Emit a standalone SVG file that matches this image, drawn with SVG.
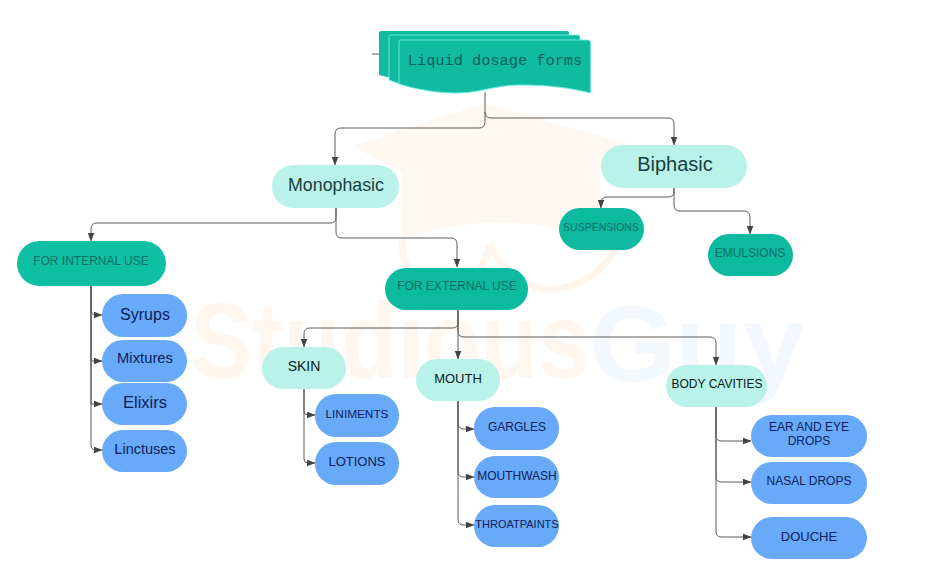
<svg xmlns="http://www.w3.org/2000/svg" width="928" height="570" viewBox="0 0 928 570">
<style>
text{font-family:"Liberation Sans",Arial,sans-serif;text-anchor:middle;dominant-baseline:central}
.lt{fill:#b9f2e8}.tl{fill:#0fbfa3}.dk{fill:#0bba9f}.bl{fill:#69a9f9}
.tt{fill:#0e6e66}.nv{fill:#0b1d5a}.bk{fill:#173f40}.kk{fill:#0a1a1a}
.c{fill:none;stroke:#5a5a5a;stroke-width:1}
.doc{fill:#10bba1;stroke:#6ef0e0;stroke-width:.9}
</style>
<defs><marker id="a" markerWidth="9" markerHeight="7" refX="8.5" refY="3.5" orient="auto" markerUnits="userSpaceOnUse"><path d="M0 0L9 3.5L0 7z" fill="#444"/></marker></defs>
<rect width="928" height="570" fill="#fff"/>
<g id="watermark">
<path d="M352 146L485 103L650 150L600 170V240Q500 205 402 240V172Z" fill="#fff8f2"/>
<g fill="none" stroke="#fff5ec" stroke-width="7"><path d="M402 240Q402 290 450 290Q480 285 490 245"/><path d="M490 245Q510 285 550 290Q600 285 620 240"/></g>
<text x="390" y="340" font-size="108" font-weight="700" fill="#fff6ef" textLength="400" lengthAdjust="spacingAndGlyphs">Studious</text>
<text x="697" y="343" font-size="108" font-weight="700" fill="#f3f8fe" textLength="215" lengthAdjust="spacingAndGlyphs">Guy</text>
</g>
<g id="connectors">
<path class="c" d="M372 54H379"/>
<path class="c" marker-end="url(#a)" d="M485 92V122Q485 128 479 128H341Q335 128 335 134V165"/>
<path class="c" marker-end="url(#a)" d="M485 112Q485 118 491 118H668Q674 118 674 124V145"/>
<path class="c" marker-end="url(#a)" d="M336 208V218Q336 223 330 223H97Q91 223 91 229V241"/>
<path class="c" marker-end="url(#a)" d="M336 208V232Q336 238 342 238H451Q457 238 457 244V267"/>
<path class="c" marker-end="url(#a)" d="M674 188V192Q674 197 668 197H607Q601 197 601 203V208"/>
<path class="c" marker-end="url(#a)" d="M674 188V205Q674 211 680 211H744Q750 211 750 217V234"/>
<path class="c" marker-end="url(#a)" d="M458 310V323Q458 328 452 328H310Q304 328 304 334V347"/>
<path class="c" marker-end="url(#a)" d="M458 310V359"/>
<path class="c" marker-end="url(#a)" d="M458 310V331Q458 337 464 337H710Q716 337 716 343V365"/>
<path class="c" marker-end="url(#a)" d="M91 286V310Q91 315 96 315H102"/>
<path class="c" marker-end="url(#a)" d="M91 286V361H102"/>
<path class="c" marker-end="url(#a)" d="M91 286V404H102"/>
<path class="c" marker-end="url(#a)" d="M91 286V445Q91 450 96 450H102"/>
<path class="c" marker-end="url(#a)" d="M304 389V411Q304 415 308 415H315"/>
<path class="c" marker-end="url(#a)" d="M304 389V459Q304 463 308 463H315"/>
<path class="c" marker-end="url(#a)" d="M458 401V423Q458 429 464 429H474"/>
<path class="c" marker-end="url(#a)" d="M458 401V472Q458 477 464 477H474"/>
<path class="c" marker-end="url(#a)" d="M458 401V520Q458 525 464 525H474"/>
<path class="c" marker-end="url(#a)" d="M716 407V436Q716 441 722 441H751"/>
<path class="c" marker-end="url(#a)" d="M716 407V477Q716 482 722 482H751"/>
<path class="c" marker-end="url(#a)" d="M716 407V532Q716 537 722 537H751"/>
</g>
<g id="title">
<path d="M379 33Q379 31 381 31H567Q569 31 569 33V70H400V80L379 75Z" fill="#10bba1"/>
<path class="doc" d="M389 37Q389 35 391 35H578Q580 35 580 37V75H400V84L389 80Z"/>
<path class="doc" d="M399 42Q399 40 401 40H588Q590.5 40 590.5 42V93C570 88 550 85 520 85C495 85 480 93 457 93C445 93 425 92 399 84Z"/>
<text x="495" y="61" font-size="15.3" fill="#0b5f5c" style="font-family:'Liberation Mono',monospace">Liquid dosage forms</text>
</g>
<g id="monophasic"><rect class="lt" x="272" y="165" width="127" height="43" rx="21.5"/><text class="bk" x="336" y="185" font-size="17.8">Monophasic</text></g>
<g id="biphasic"><rect class="lt" x="601" y="145" width="146" height="43" rx="21.5"/><text class="bk" x="675" y="164" font-size="20">Biphasic</text></g>
<g id="internal"><rect class="tl" x="17" y="241" width="149" height="45" rx="22.5"/><text class="tt" x="91" y="261" font-size="12">FOR INTERNAL USE</text></g>
<g id="external"><rect class="dk" x="385" y="268" width="143" height="42" rx="21"/><text class="tt" x="457" y="286" font-size="12">FOR EXTERNAL USE</text></g>
<g id="suspensions"><rect class="dk" x="559" y="208" width="85" height="42" rx="21"/><text class="tt" x="601" y="227" font-size="10.5">SUSPENSIONS</text></g>
<g id="emulsions"><rect class="dk" x="708" y="234" width="85" height="42" rx="21"/><text class="tt" x="750" y="253" font-size="12">EMULSIONS</text></g>
<g id="skin"><rect class="lt" x="262" y="347" width="84" height="42" rx="21"/><text class="kk" x="304" y="366" font-size="14">SKIN</text></g>
<g id="mouth"><rect class="lt" x="416" y="359" width="84" height="42" rx="21"/><text class="kk" x="458" y="378" font-size="13">MOUTH</text></g>
<g id="body-cavities"><rect class="lt" x="666" y="365" width="101" height="42" rx="21"/><text class="kk" x="717" y="384" font-size="12">BODY CAVITIES</text></g>
<g id="syrups"><rect class="bl" x="102" y="294" width="85" height="43" rx="21"/><text class="nv" x="145" y="314" font-size="16">Syrups</text></g>
<g id="mixtures"><rect class="bl" x="102" y="340" width="85" height="42" rx="21"/><text class="nv" x="145" y="358" font-size="14.8">Mixtures</text></g>
<g id="elixirs"><rect class="bl" x="102" y="383" width="85" height="42" rx="21"/><text class="nv" x="145" y="402" font-size="16.5">Elixirs</text></g>
<g id="linctuses"><rect class="bl" x="102" y="430" width="85" height="42" rx="21"/><text class="nv" x="145" y="449" font-size="14.5">Linctuses</text></g>
<g id="liniments"><rect class="bl" x="315" y="394" width="84" height="43" rx="21"/><text class="nv" x="357" y="414" font-size="11.8">LINIMENTS</text></g>
<g id="lotions"><rect class="bl" x="315" y="442" width="84" height="43" rx="21"/><text class="nv" x="357" y="461" font-size="13">LOTIONS</text></g>
<g id="gargles"><rect class="bl" x="474" y="407" width="85" height="43" rx="21"/><text class="nv" x="517" y="427" font-size="12">GARGLES</text></g>
<g id="mouthwash"><rect class="bl" x="474" y="456" width="85" height="42" rx="21"/><text class="nv" x="517" y="476" font-size="12">MOUTHWASH</text></g>
<g id="throatpaints"><rect class="bl" x="474" y="505" width="85" height="42" rx="21"/><text class="nv" x="517" y="524" font-size="11">THROATPAINTS</text></g>
<g id="ear-eye"><rect class="bl" x="751" y="415" width="116" height="42" rx="21"/><text class="nv" x="809" y="427" font-size="12">EAR AND EYE</text><text class="nv" x="809" y="441" font-size="12">DROPS</text></g>
<g id="nasal"><rect class="bl" x="751" y="462" width="116" height="42" rx="21"/><text class="nv" x="809" y="481" font-size="12">NASAL DROPS</text></g>
<g id="douche"><rect class="bl" x="751" y="517" width="116" height="42" rx="21"/><text class="nv" x="809" y="536" font-size="13">DOUCHE</text></g>
</svg>
